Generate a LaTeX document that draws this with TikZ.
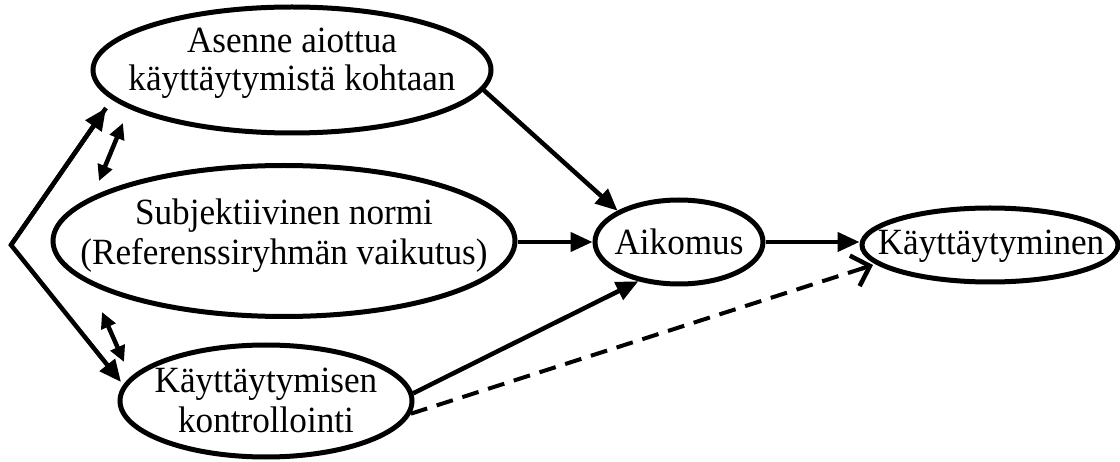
\documentclass[tikz,border=0pt]{standalone}
\usepackage{fontspec}
\setmainfont{Liberation Serif}[FakeStretch=0.95]
\usetikzlibrary{shapes.geometric,arrows.meta,calc}
\tikzset{
  ell/.style={draw, ellipse, line width=5pt, inner sep=0pt},
  txt/.style={anchor=base, inner sep=0pt, font=\fontsize{37}{38}\selectfont},
  conn/.style={line width=4.5pt, -{Triangle[length=22pt,width=19pt]}},
  dbl/.style={line width=4.5pt, {Triangle[length=16pt,width=15pt]}-{Triangle[length=16pt,width=15pt]}},
  dline/.style={line width=4pt, dash pattern=on 17pt off 10pt},
  dtipstyle/.style={line width=4pt, -{Straight Barb[length=16pt,width=32pt,line width=4.5pt]}}
}
\begin{document}
\begin{tikzpicture}[x=1pt,y=-1pt]
\useasboundingbox (0,0) rectangle (1120,462);
\node[ell, minimum width=398pt, minimum height=126pt] (asenne) at (292,70) {};
\node[txt] (asenneA) at (292,53) {Asenne aiottua};
\node[txt] (asenneB) at (292,91) {käyttäytymistä kohtaan};
\node[ell, minimum width=462pt, minimum height=151pt] (subj) at (284,241) {};
\node[txt] (subjA) at (284,225) {Subjektiivinen normi};
\node[txt] (subjB) at (284,265) {(Referenssiryhmän vaikutus)};
\node[ell, minimum width=292pt, minimum height=112pt] (kontrol) at (266,401) {};
\node[txt] (kontrolA) at (266,393) {Käyttäytymisen};
\node[txt] (kontrolB) at (266,432) {kontrollointi};
\node[ell, minimum width=168pt, minimum height=84pt] (aikomus) at (679,242) {};
\node[txt] (aikomusT) at (679,255) {Aikomus};
\node[ell, minimum width=256pt, minimum height=74pt] (kaytt) at (990,245) {};
\node[txt] (kayttT) at (991,255) {Käyttäytyminen};
\coordinate (apex) at (11,245);
\coordinate (lt) at (106,108);
\coordinate (lb) at (121,382);
\coordinate (d1a) at (123,123);
\coordinate (d1b) at (99,181);
\coordinate (d2a) at (102,312);
\coordinate (d2b) at (124,362);
\coordinate (dtip) at (873,265);
\draw[conn, line join=miter] (lt) -- (apex) -- (lb);
\draw[conn] (apex) -- (lt);
\draw[dbl] (d1a) -- (d1b);
\draw[dbl] (d2a) -- (d2b);
\draw[conn] (asenne.-6) -- (aikomus.153);
\draw[conn] (aikomus.west -| subj.east) -- (aikomus.west);
\draw[conn] (kontrol.3) -- (aikomus.-136);
\draw[conn] (aikomus.east) -- (aikomus.east -| kaytt.west);
\draw[dline] (kontrol.-5) -- ($(dtip)!4pt!(kontrol.-5)$);
\draw[dtipstyle] ($(dtip)!12pt!(kontrol.-5)$) -- (dtip);
\end{tikzpicture}
\end{document}
